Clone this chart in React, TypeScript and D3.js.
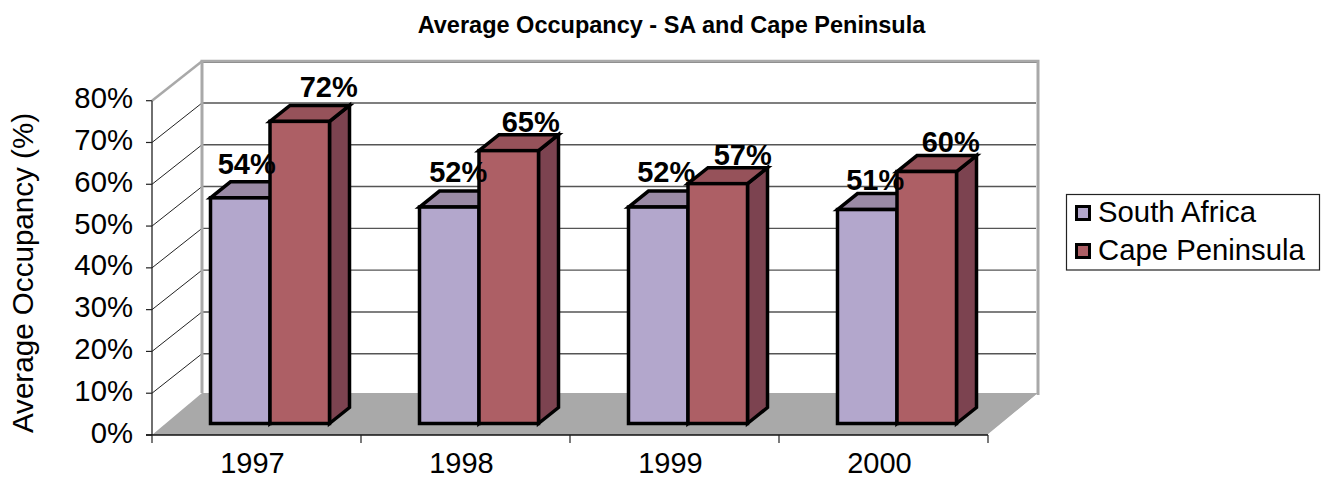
import React from "react";
import * as d3 from "d3";

const years = ["1997", "1998", "1999", "2000"];
const seriesNames = ["South Africa", "Cape Peninsula"];
const southAfrica = [54, 51.8, 51.8, 51.2];
const capePeninsula = [72.3, 65.3, 57.4, 60.3];
const pctTicks = [0, 10, 20, 30, 40, 50, 60, 70, 80];
const colors = { sa: "#b3a7cc", saTop: "#9a8aa5", cp: "#ad5f65", cpTop: "#96525a", cpSide: "#7c4350", sideSa: "#8a7d9e" };

const W = 1324, H = 479;
const FONT = "'Liberation Sans', Arial, sans-serif";

export default function App() {
  const x = d3.scaleBand<string>().domain(years).range([152, 988]);
  const y = d3.scaleLinear().domain([0, 80]).range([435, 100.7]);
  const backDx = 50, backDy = -39.5;
  const floorBackY = 393;
  const barBase = 423.5;
  const barDy = barBase - y(0);
  const depthX = 20, depthY = -16;
  const offsetInBand = 58.5;
  const barW = 59.5;
  const series = [
    { name: seriesNames[0], values: southAfrica, fill: colors.sa, top: colors.saTop, side: colors.sideSa },
    { name: seriesNames[1], values: capePeninsula, fill: colors.cp, top: colors.cpTop, side: colors.cpSide },
  ];
  const inner = d3.scaleBand<number>().domain([0, 1]).range([0, barW * 2]);
  // hand-placed data labels: [dx from bar centre, dy from bar top]
  const labelShift = [
    [[6.5, -24], [29, -24]],
    [[9, -25], [22, -19]],
    [[8, -25], [25, -19]],
    [[8, -20], [24, -20]],
  ];

  return (
    <svg width={W} height={H} style={{ position: "absolute", left: 0, top: 0 }} fontFamily={FONT}>
      <rect width={W} height={H} fill="#fff" />
      <text x={671.5} y={33} textAnchor="middle" fontSize={23.5} fontWeight="bold" fill="#000">Average Occupancy - SA and Cape Peninsula</text>

      {/* back wall gridlines */}
      {pctTicks.map((t) => (
        <g key={t}>
          {t > 0 && t < 80 && <line x1={152 + backDx} x2={988 + backDx - 2} y1={y(t) + backDy} y2={y(t) + backDy} stroke="#555" strokeWidth={1.4} />}
          {t > 0 && t < 80 && <line x1={152} x2={152 + backDx} y1={y(t)} y2={y(t) + backDy} stroke="#222" strokeWidth={1} />}
          <line x1={146} x2={152} y1={y(t)} y2={y(t)} stroke="#222" strokeWidth={1.2} />
          <text x={133} y={y(t) + 7.5} textAnchor="end" fontSize={29.3} fill="#000">{d3.format("d")(t)}%</text>
        </g>
      ))}
      <line x1={152 + backDx} x2={988 + backDx} y1={62.5} y2={62.5} stroke="#444" strokeWidth={1} />
      {/* wall frame */}
      <path d={`M${152 + backDx},${floorBackY}V${y(80) + backDy}H${988 + backDx}V${floorBackY + 2}`} fill="none" stroke="#a9a9a9" strokeWidth={3} />
      <line x1={152} x2={152 + backDx} y1={y(80)} y2={y(80) + backDy} stroke="#a9a9a9" strokeWidth={2.5} />
      {/* floor */}
      <path d={`M${x.range()[0]},${y(0)}L${x.range()[0] + backDx},${floorBackY}H${x.range()[1] + backDx}L${x.range()[1]},${y(0)}Z`} fill="#a9a9a9" />
      <line x1={988} x2={988 + backDx - 1} y1={y(0)} y2={floorBackY + 2} stroke="#fff" strokeWidth={1.5} />
      {/* axes */}
      <line x1={152} x2={152} y1={y(80)} y2={y(0)} stroke="#222" strokeWidth={1.3} />
      <line x1={146} x2={988} y1={y(0)} y2={y(0)} stroke="#111" strokeWidth={1.3} />
      {[...years.map((d) => x(d)!), 988].map((px) => (
        <line key={px} x1={px} x2={px} y1={y(0)} y2={y(0) + 8} stroke="#222" strokeWidth={1.2} />
      ))}
      {years.map((d) => (
        <text key={d} x={x(d)! + x.bandwidth() / 2 - 4} y={473} textAnchor="middle" fontSize={29} fill="#000">{d}</text>
      ))}

      {/* bars */}
      {years.map((d, i) => (
        <g key={d}>
          {series.map((s, si) => {
            const x0 = x(d)! + offsetInBand + inner(si)!;
            const x1 = x0 + inner.bandwidth();
            const y0 = y(0) + barDy;
            const yt = y(s.values[i]) + barDy;
            return (
              <g key={s.name} stroke="#000" strokeWidth={3.5} strokeLinejoin="miter">
                <path d={`M${x1},${y0}L${x1 + depthX},${y0 + depthY}V${yt + depthY}L${x1},${yt}Z`} fill={s.side} />
                <path d={`M${x0},${yt}L${x0 + depthX},${yt + depthY}H${x1 + depthX}L${x1},${yt}Z`} fill={s.top} />
                <rect x={x0} y={yt} width={inner.bandwidth()} height={y0 - yt} fill={s.fill} />
              </g>
            );
          })}
        </g>
      ))}
      {/* data labels */}
      {years.map((d, i) =>
        series.map((s, si) => {
          const x0 = x(d)! + offsetInBand + inner(si)!;
          const yt = y(s.values[i]) + barDy;
          const [dx, dy] = labelShift[i][si];
          return (
            <text key={d + s.name} x={x0 + inner.bandwidth() / 2 + dx} y={yt + dy} textAnchor="middle" fontSize={29} fontWeight="bold" fill="#000">
              {d3.format(".0f")(s.values[i])}%
            </text>
          );
        })
      )}

      {/* y title */}
      <text transform="translate(33,273) rotate(-90)" textAnchor="middle" fontSize={29.6} fill="#000">Average Occupancy (%)</text>

      {/* legend */}
      <rect x={1066.5} y={194.5} width={253} height={75.5} fill="#fff" stroke="#222" strokeWidth={1.2} />
      {series.map((s, si) => (
        <g key={s.name}>
          <rect x={1076.5} y={206.5 + si * 38} width={13} height={13} fill={s.fill} stroke="#000" strokeWidth={3} />
          <text x={1098} y={222 + si * 38} fontSize={29.3} fill="#000">{s.name}</text>
        </g>
      ))}
    </svg>
  );
}
